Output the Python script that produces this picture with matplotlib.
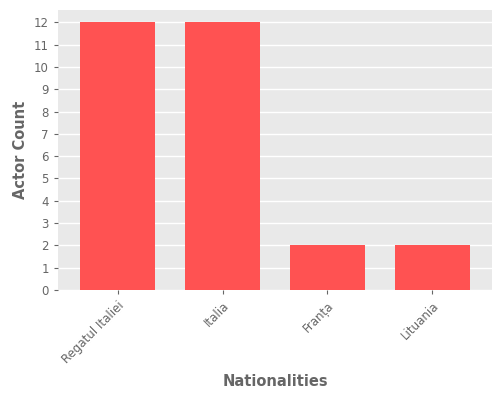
import matplotlib
matplotlib.use("Agg")
import matplotlib.pyplot as plt

nationalities = ["Regatul Italiei", "Italia", "Franța", "Lituania"]
counts = [12, 12, 2, 2]

fig, ax = plt.subplots(figsize=(5, 4), dpi=100)
ax.set_facecolor("#e9e9e9")
ax.bar(nationalities, counts, color="#ff5252", width=0.72, zorder=3)
ax.set_yticks(range(0, 13))
ax.set_ylim(0, 12.55)
ax.set_xlim(-0.57, 3.57)
ax.grid(axis="y", color="white", linewidth=1, zorder=0)
for s in ax.spines.values():
    s.set_visible(False)
ax.tick_params(colors="#666666", labelsize=8.5, length=3)
plt.setp(ax.get_xticklabels(), rotation=45, ha="right", rotation_mode="anchor")
ax.set_xlabel("Nationalities", fontsize=10.5, color="#666666", fontweight="bold", labelpad=6)
ax.set_ylabel("Actor Count", fontsize=10.5, color="#666666", fontweight="bold")
fig.subplots_adjust(left=0.116, right=0.984, top=0.975, bottom=0.275)
fig.savefig("out.png")
